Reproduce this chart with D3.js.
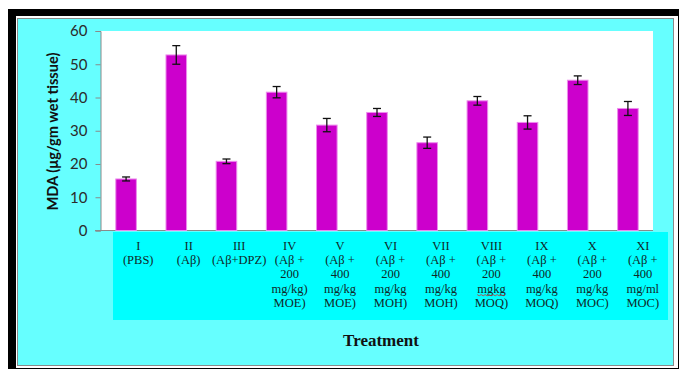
<!DOCTYPE html>
<html>
<head>
<meta charset="utf-8">
<script src="https://cdn.jsdelivr.net/npm/d3@7/dist/d3.min.js"></script>
<style>
  html, body { margin: 0; padding: 0; background: #ffffff; }
  svg { display: block; }
</style>
</head>
<body>
<svg id="chart" width="681" height="370"></svg>
<script>
// Treatment groups and MDA levels (mean ± SEM)
const groups = ["I", "II", "III", "IV", "V", "VI", "VII", "VIII", "IX", "X", "XI"];
const mdaMeans = [15.5, 52.8, 20.8, 41.6, 31.7, 35.5, 26.4, 39.0, 32.5, 45.2, 36.7];
const mdaErrors = [0.6, 2.8, 0.7, 1.7, 2.0, 1.2, 1.7, 1.3, 2.0, 1.3, 2.1];
const yTicks = [0, 10, 20, 30, 40, 50, 60];
const groupLabels = [
  ["I", "(PBS)"],
  ["II", "(Aβ)"],
  ["III", "(Aβ+DPZ)"],
  ["IV", "(Aβ +", "200", "mg/kg)", "MOE)"],
  ["V", "(Aβ +", "400", "mg/kg", "MOE)"],
  ["VI", "(Aβ +", "200", "mg/kg", "MOH)"],
  ["VII", "(Aβ +", "400", "mg/kg", "MOH)"],
  ["VIII", "(Aβ +", "200", "mgkg", "MOQ)"],
  ["IX", "(Aβ +", "400", "mg/kg", "MOQ)"],
  ["X", "(Aβ +", "200", "mg/kg", "MOC)"],
  ["XI", "(Aβ +", "400", "mg/ml", "MOC)"]
];
const yTitle = "MDA (μg/gm wet tissue)";
const xTitle = "Treatment";

const svg = d3.select("#chart");

// Outer frame: heavy black edge, white gap, grey inner rule, cyan panel
svg.append("rect").attr("x", 8).attr("y", 9).attr("width", 671).attr("height", 360).attr("fill", "#000");
svg.append("rect").attr("x", 16).attr("y", 16).attr("width", 662).attr("height", 352).attr("fill", "#fff");
svg.append("rect").attr("x", 17.5).attr("y", 18.5).attr("width", 656).attr("height", 347)
  .attr("fill", "#66ffff").attr("stroke", "#8a8a8a").attr("stroke-width", 1);

const plot = { left: 101, right: 653, top: 31, bottom: 230.5 };

// White plotting area
svg.append("rect").attr("x", plot.left).attr("y", plot.top)
  .attr("width", plot.right - plot.left).attr("height", plot.bottom - plot.top).attr("fill", "#fff");

const x = d3.scaleBand().domain(groups).range([plot.left, plot.right]).paddingInner(0.59).paddingOuter(0.295);
const y = d3.scaleLinear().domain([0, 60]).range([plot.bottom, plot.top]);

// Y axis
const yAxis = d3.axisLeft(y).tickValues(yTicks).tickSize(5).tickPadding(8).tickFormat(d3.format("d"));
const gy = svg.append("g").attr("transform", `translate(${plot.left - 0.5},0)`).call(yAxis);
gy.select(".domain").attr("stroke", "#8a8a8a");
gy.selectAll(".tick line").attr("stroke", "#8a8a8a");
gy.selectAll(".tick text")
  .attr("font-family", "Lato, 'Open Sans', sans-serif").attr("font-size", 15).attr("fill", "#2b2b2b");

// Baseline
svg.append("line").attr("x1", plot.left - 6).attr("x2", plot.right)
  .attr("y1", y(0)).attr("y2", y(0)).attr("stroke", "#8a8a8a");

// Bars
svg.append("g").selectAll("rect").data(groups).join("rect")
  .attr("x", d => x(d)).attr("width", x.bandwidth())
  .attr("y", (d, i) => y(mdaMeans[i])).attr("height", (d, i) => y(0) - y(mdaMeans[i]))
  .attr("fill", "#cc00cc").attr("stroke", "#ec8cec").attr("stroke-width", 1);

// Error bars
const eg = svg.append("g").attr("stroke", "#111").attr("stroke-width", 1.3);
groups.forEach((g, i) => {
  const cx = x(g) + x.bandwidth() / 2;
  const hi = y(mdaMeans[i] + mdaErrors[i]);
  const lo = y(mdaMeans[i] - mdaErrors[i]);
  eg.append("line").attr("x1", cx).attr("x2", cx).attr("y1", hi).attr("y2", lo);
  eg.append("line").attr("x1", cx - 4).attr("x2", cx + 4).attr("y1", hi).attr("y2", hi);
  eg.append("line").attr("x1", cx - 4).attr("x2", cx + 4).attr("y1", lo).attr("y2", lo);
});

// Category label table
const table = { left: 113, right: 668, top: 232, bottom: 320 };
svg.append("rect").attr("x", table.left).attr("y", table.top)
  .attr("width", table.right - table.left).attr("height", table.bottom - table.top).attr("fill", "#00ffff");
const col = d3.scaleBand().domain(groups).range([table.left, table.right]);

const labelG = svg.append("g")
  .attr("font-family", "'Liberation Serif', 'Times New Roman', serif")
  .attr("font-size", 12.5).attr("fill", "#102828").attr("text-anchor", "middle");
groups.forEach((g, i) => {
  const cx = col(g) + col.bandwidth() / 2;
  groupLabels[i].forEach((line, j) => {
    const t = labelG.append("text").attr("x", cx).attr("y", 250 + j * 14.2).text(line);
    if (line === "mgkg") {
      // spell-check squiggle under the unseparated unit
      const b = t.node().getBBox();
      const pts = [];
      for (let k = 0; k <= Math.floor(b.width / 2); k++) {
        pts.push([b.x + k * 2, b.y + b.height - 1 + (k % 2 ? 1.2 : 0)]);
      }
      labelG.append("path").attr("d", d3.line()(pts)).attr("fill", "none")
        .attr("stroke", "#d03030").attr("stroke-width", 0.8);
    }
  });
});

// Axis titles
svg.append("text")
  .attr("transform", "translate(58,131.5) rotate(-90)")
  .attr("text-anchor", "middle")
  .attr("font-family", "Lato, 'Open Sans', sans-serif").attr("font-weight", "bold")
  .attr("font-size", 16).attr("fill", "#111")
  .attr("textLength", 158).attr("lengthAdjust", "spacingAndGlyphs")
  .text(yTitle);

svg.append("text")
  .attr("x", 381).attr("y", 346).attr("text-anchor", "middle")
  .attr("font-family", "'Liberation Serif', 'Times New Roman', serif").attr("font-weight", "bold")
  .attr("font-size", 17).attr("fill", "#111")
  .text(xTitle);
</script>
</body>
</html>
